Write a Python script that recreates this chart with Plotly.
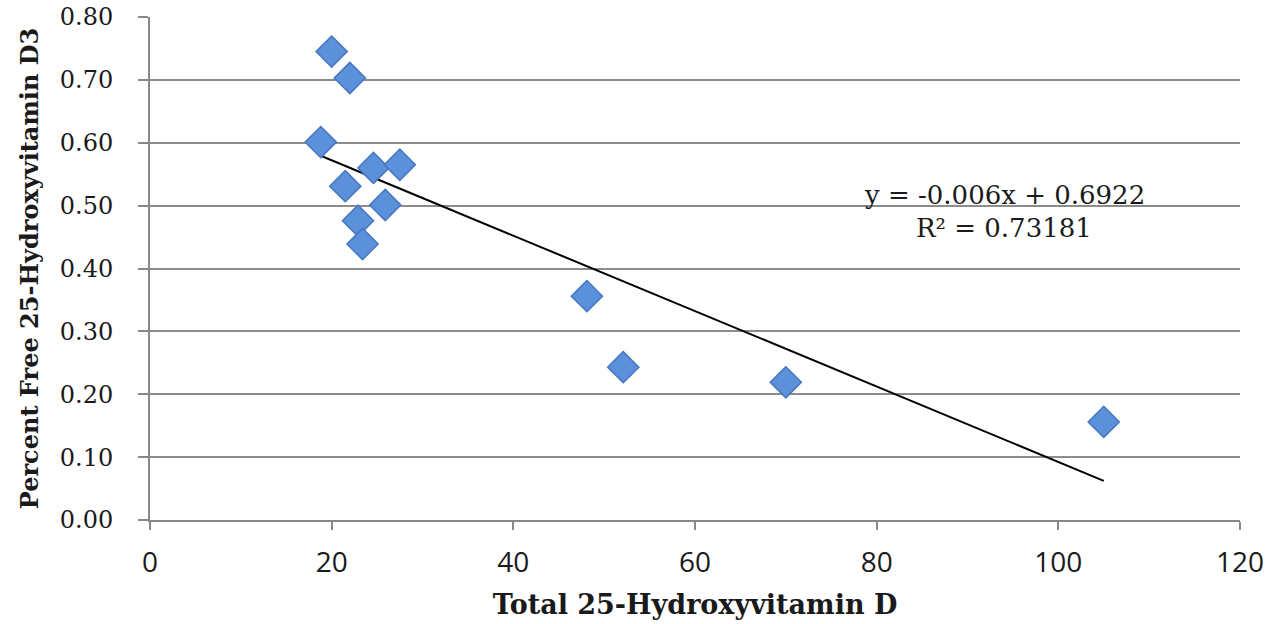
import plotly.graph_objects as go

total_vitd = [20.0, 22.0, 18.8, 24.6, 27.5, 21.5, 25.9, 22.9, 23.4, 48.1, 52.1, 70.0, 105.0]
pct_free = [0.745, 0.703, 0.601, 0.560, 0.565, 0.531, 0.501, 0.476, 0.439, 0.356, 0.243, 0.219, 0.156]

slope = -0.006
intercept = 0.6922
r_squared = 0.73181
trend_x = [19.0, 105.0]
trend_y = [slope * v + intercept for v in trend_x]

x_ticks = [0, 20, 40, 60, 80, 100, 120]
y_ticks = [0.0, 0.1, 0.2, 0.3, 0.4, 0.5, 0.6, 0.7, 0.8]

serif = "DejaVu Serif"
sans = "Open Sans"
txt = "#1a1a1a"

fig = go.Figure()
fig.add_trace(go.Scatter(
    x=trend_x, y=trend_y, mode="lines",
    line=dict(color="black", width=2), hoverinfo="skip", showlegend=False))
fig.add_trace(go.Scatter(
    x=total_vitd, y=pct_free, mode="markers",
    marker=dict(symbol="diamond", size=24, color="#5B90DA",
                line=dict(color="#4677BF", width=1.5)),
    showlegend=False))

fig.add_annotation(x=0.7835, y=0.646, xref="paper", yref="paper",
                   xanchor="center", yanchor="middle",
                   text=f"y = {slope}x + {intercept}", showarrow=False,
                   font=dict(family=serif, size=26, color=txt))
fig.add_annotation(x=0.7835, y=0.5805, xref="paper", yref="paper",
                   xanchor="center", yanchor="middle",
                   text=f"R² = {r_squared}", showarrow=False,
                   font=dict(family=serif, size=26, color=txt))

fig.update_layout(
    width=1270, height=624,
    margin=dict(l=150, r=30, t=17, b=104),
    plot_bgcolor="white", paper_bgcolor="white",
)
fig.update_xaxes(
    range=[0, 120], tickvals=x_ticks, ticks="outside", ticklen=8, tickwidth=2,
    tickcolor="#888", showline=True, linecolor="#888", linewidth=2,
    showgrid=False, zeroline=False, automargin=False, ticklabelstandoff=8,
    tickfont=dict(family=sans, size=28, color=txt),
    title=dict(text="<b>Total 25-Hydroxyvitamin D</b>",
               font=dict(family=serif, size=27, color=txt), standoff=17),
)
fig.update_yaxes(
    range=[0, 0.8], tickvals=y_ticks, tickformat=".2f", ticks="outside",
    ticklen=10, tickwidth=2, tickcolor="#888", showline=True, linecolor="#888",
    linewidth=2, showgrid=True, gridcolor="#8c8c8c", gridwidth=2,
    zeroline=False, automargin=False, ticklabelstandoff=20,
    tickfont=dict(family=serif, size=24, color=txt),
    title=dict(text="<b>Percent Free 25-Hydroxyvitamin D3</b>",
               font=dict(family=serif, size=24, color=txt), standoff=14),
)

fig.write_html("out.html")
